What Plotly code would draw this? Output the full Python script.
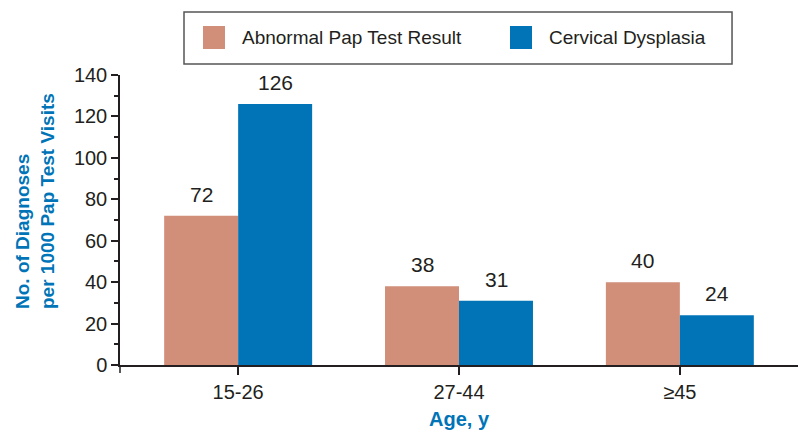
import plotly.graph_objects as go

categories = ["15-26", "27-44", "≥45"]
series_names = ["Abnormal Pap Test Result", "Cervical Dysplasia"]
abnormal_pap = [72, 38, 40]
cervical_dysplasia = [126, 31, 24]
y_ticks = [0, 20, 40, 60, 80, 100, 120, 140]

PINK = "#D18E79"
BLUE = "#0074B7"
TXT = "#231F20"
FONT = "Liberation Sans, Arial, sans-serif"

fig = go.Figure()
fig.add_trace(go.Bar(x=categories, y=abnormal_pap, name=series_names[0],
                     marker=dict(color=PINK, line=dict(width=0))))
fig.add_trace(go.Bar(x=categories, y=cervical_dysplasia, name=series_names[1],
                     marker=dict(color=BLUE, line=dict(width=0))))

annotations = []
for vals, shift in ((abnormal_pap, -37), (cervical_dysplasia, 37)):
    for c, v in zip(categories, vals):
        annotations.append(dict(x=c, y=v, xref="x", yref="y", text=str(v),
                                showarrow=False, xshift=shift, yshift=8,
                                yanchor="bottom",
                                font=dict(size=21, color=TXT, family=FONT)))

# manual legend (large square swatches like the reference)
shapes = [
    dict(type="rect", xref="paper", yref="paper", x0=0.0944, x1=0.9027,
         y0=1.0379, y1=1.2172, line=dict(color="#555555", width=1.5),
         fillcolor="white", layer="above"),
    dict(type="rect", xref="paper", yref="paper", x0=0.1224, x1=0.1549,
         y0=1.0897, y1=1.169, line=dict(width=0), fillcolor=PINK),
    dict(type="rect", xref="paper", yref="paper", x0=0.5752, x1=0.6077,
         y0=1.0897, y1=1.169, line=dict(width=0), fillcolor=BLUE),
    dict(type="line", xref="paper", yref="paper", x0=0, x1=0,
         y0=0, y1=-8 / 290, line=dict(color=TXT, width=1.5)),
]
annotations.append(dict(x=0.1770, y=1.1293, xref="paper", yref="paper",
                        text=series_names[0], showarrow=False, xanchor="left",
                        yanchor="middle", font=dict(size=19, color=TXT, family=FONT)))
annotations.append(dict(x=0.6298, y=1.1293, xref="paper", yref="paper",
                        text=series_names[1], showarrow=False, xanchor="left",
                        yanchor="middle", font=dict(size=19, color=TXT, family=FONT)))
# y-axis title (start-aligned lines, as in the reference)
annotations.append(dict(x=-0.1254, y=0.5655, xref="paper", yref="paper",
                        text="<b>No. of Diagnoses<br>per 1000 Pap Test Visits</b>",
                        showarrow=False, textangle=-90, align="left",
                        xanchor="center", yanchor="middle",
                        font=dict(size=19, color=BLUE, family=FONT)))

fig.update_layout(
    width=798, height=430,
    margin=dict(l=120, r=0, t=75, b=65),
    paper_bgcolor="white", plot_bgcolor="white",
    barmode="group", bargap=0.33, bargroupgap=0,
    showlegend=False,
    font=dict(family=FONT, color=TXT, size=20),
    annotations=annotations,
    shapes=shapes,
)
fig.update_xaxes(
    range=[-0.535, 2.535], automargin=False,
    showline=True, linecolor=TXT, linewidth=1.5,
    ticks="outside", ticklen=8, tickwidth=1.5, tickcolor=TXT,
    tickfont=dict(size=20, color=TXT, family=FONT),
    showgrid=False, zeroline=False,
    title=dict(text="<b>Age, y</b>", font=dict(size=20, color=BLUE, family=FONT),
               standoff=10),
)
fig.update_yaxes(
    range=[0, 140], tickvals=y_ticks, automargin=False,
    showline=True, linecolor=TXT, linewidth=1.5,
    ticks="outside", ticklen=7, tickwidth=1.5, tickcolor=TXT,
    minor=dict(dtick=10, ticklen=4, ticks="outside", tickwidth=1.5, tickcolor=TXT),
    tickfont=dict(size=20, color=TXT, family=FONT),
    showgrid=False, zeroline=False,
)

fig.write_html("out.html", config={"displayModeBar": False},
               post_script="document.body.style.margin='0';document.body.style.overflow='hidden';")
